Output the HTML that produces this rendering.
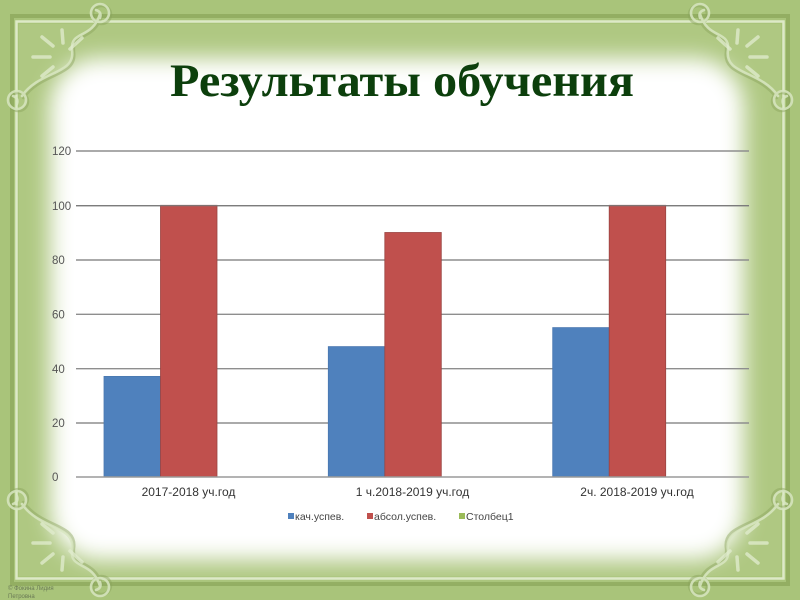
<!DOCTYPE html>
<html>
<head>
<meta charset="utf-8">
<style>
html,body{margin:0;padding:0;background:#a9c47a;}
svg{display:block;}
</style>
</head>
<body>
<svg width="800" height="600" viewBox="0 0 800 600" xmlns="http://www.w3.org/2000/svg">
<defs>
<filter id="blur" x="-20%" y="-20%" width="140%" height="140%">
<feGaussianBlur stdDeviation="11"/>
</filter>
<g id="orn" fill="none" stroke-linecap="round">
<g stroke="#8aa35c" stroke-width="3.5" opacity="0.45" transform="translate(1.5,1.5)">
<path d="M100 14 C 92 40, 70 30, 72 50 C 76 75, 40 70, 22 96"/>
<circle cx="100" cy="13" r="9"/>
<circle cx="17" cy="100" r="9"/>
</g>
<g stroke="#d9e7c2" stroke-width="2.6" opacity="0.85">
<path d="M100 14 C 92 40, 70 30, 72 50 C 76 75, 40 70, 22 96"/>
<circle cx="100" cy="13" r="9"/>
<circle cx="17" cy="100" r="9"/>
<path d="M96 10 q6 2 4 8"/>
<path d="M13 96 q6 2 4 8"/>
</g>
<g stroke="#e2edd0" stroke-width="3.5" opacity="0.75">
<line x1="62" y1="30" x2="63" y2="43"/>
<line x1="82" y1="38" x2="70" y2="49"/>
<line x1="42" y1="37" x2="53" y2="46"/>
<line x1="33" y1="57" x2="50" y2="57"/>
<line x1="42" y1="76" x2="53" y2="67"/>
</g>
</g>
</defs>

<!-- green background -->
<rect x="0" y="0" width="800" height="600" fill="#a9c47a"/>
<!-- darker band outside frame line -->
<rect x="12" y="16" width="776" height="568" fill="none" stroke="#93ae62" stroke-width="4"/>
<!-- inner green -->
<rect x="19" y="24" width="762" height="552" fill="#afc882"/>
<!-- white blurred centre -->
<rect x="50" y="58" width="694" height="502" rx="50" fill="#ffffff" filter="url(#blur)"/>
<!-- frame line -->
<rect x="16.5" y="21.5" width="767" height="557" fill="none" stroke="#dde9c8" stroke-width="2.5"/>

<!-- ornaments -->
<use href="#orn"/>
<use href="#orn" transform="translate(800,0) scale(-1,1)"/>
<use href="#orn" transform="translate(0,600) scale(1,-1)"/>
<use href="#orn" transform="translate(800,600) scale(-1,-1)"/>

<!-- title -->
<text x="170" y="96" font-family="Liberation Serif, serif" font-weight="bold" font-size="47" fill="#0c3f0c" textLength="464" lengthAdjust="spacingAndGlyphs">Результаты обучения</text>

<!-- gridlines -->
<g stroke="#8e8e8e" stroke-width="1.4">
<line x1="76" y1="151" x2="749" y2="151"/>
<line x1="76" y1="205.7" x2="749" y2="205.7"/>
<line x1="76" y1="260" x2="749" y2="260"/>
<line x1="76" y1="314.3" x2="749" y2="314.3"/>
<line x1="76" y1="368.7" x2="749" y2="368.7"/>
<line x1="76" y1="423" x2="749" y2="423"/>
</g>

<!-- bars -->
<g stroke-width="0.8">
<rect x="104" y="376.4" width="56.5" height="100.6" fill="#4f81bd" stroke="#4a78b0"/>
<rect x="160.5" y="205.3" width="56.5" height="271.7" fill="#c0504d" stroke="#9a4442"/>
<rect x="328.3" y="346.6" width="56.5" height="130.4" fill="#4f81bd" stroke="#4a78b0"/>
<rect x="384.8" y="232.5" width="56.5" height="244.5" fill="#c0504d" stroke="#9a4442"/>
<rect x="552.7" y="327.6" width="56.5" height="149.4" fill="#4f81bd" stroke="#4a78b0"/>
<rect x="609.2" y="205.3" width="56.5" height="271.7" fill="#c0504d" stroke="#9a4442"/>
</g>
<line x1="76" y1="205.7" x2="749" y2="205.7" stroke="#7a7a7a" stroke-width="1.2"/>
<!-- axis -->
<line x1="76" y1="477" x2="749" y2="477" stroke="#9a9a9a" stroke-width="1.5"/>

<!-- y labels -->
<g font-family="Liberation Sans, sans-serif" font-size="11.5" fill="#555">
<text x="52" y="155">120</text>
<text x="52" y="210">100</text>
<text x="52" y="264">80</text>
<text x="52" y="318.5">60</text>
<text x="52" y="373">40</text>
<text x="52" y="427">20</text>
<text x="52" y="481">0</text>
</g>

<!-- x labels -->
<g font-family="Liberation Sans, sans-serif" font-size="12" fill="#333" text-anchor="middle">
<text x="188.5" y="496">2017-2018 уч.год</text>
<text x="412.5" y="496">1 ч.2018-2019 уч.год</text>
<text x="637" y="496">2ч. 2018-2019 уч.год</text>
</g>

<!-- legend -->
<rect x="288" y="513" width="6" height="6" fill="#4f81bd"/>
<rect x="367" y="513" width="6" height="6" fill="#c0504d"/>
<rect x="459" y="513" width="6" height="6" fill="#9bbb59"/>
<g font-family="Liberation Sans, sans-serif" font-size="10.5" fill="#444">
<text x="295" y="520">кач.успев.</text>
<text x="374" y="520">абсол.успев.</text>
<text x="466" y="520">Столбец1</text>
</g>

<!-- copyright -->
<g font-family="Liberation Sans, sans-serif" font-size="6" fill="#6a7a55">
<text x="8" y="590">© Фокина Лидия</text>
<text x="8" y="598">Петровна</text>
</g>
</svg>
</body>
</html>
